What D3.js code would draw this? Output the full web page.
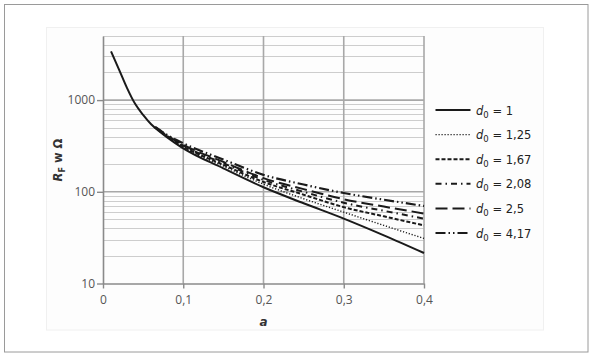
<!DOCTYPE html>
<html><head><meta charset="utf-8">
<script src="https://cdn.jsdelivr.net/npm/d3@7"></script>
<style>body{margin:0;background:#fff}svg{display:block}</style>
</head><body>
<svg id="c" width="593" height="357"></svg>
<script>
const xTicks = [0, 0.1, 0.2, 0.3, 0.4];
const xTickLabels = ["0", "0,1", "0,2", "0,3", "0,4"];
const yTicks = [10, 100, 1000];
const yTickLabels = ["10", "100", "1000"];
const seriesNames = ["1", "1,25", "1,67", "2,08", "2,5", "4,17"];
const aD1 = [0.01, 0.02, 0.03, 0.04, 0.05, 0.06, 0.07, 0.08, 0.09, 0.1, 0.15, 0.2, 0.25, 0.3, 0.35, 0.4];
const rD1 = [3400, 2150, 1350, 910, 690, 545, 458, 392, 340, 298, 180, 112, 75, 51, 33.5, 21.5];
const aOther = [0.065, 0.08, 0.1, 0.15, 0.2, 0.25, 0.3, 0.35, 0.4];
const rD125 = [500, 397, 305, 190, 121, 84, 60, 43, 31];
const rD167 = [502, 402, 312, 197, 128, 93, 68, 54, 43];
const rD208 = [504, 406, 318, 205, 135, 100, 76, 62, 51];
const rD25  = [506, 410, 325, 212, 141, 107, 83, 69, 58];
const rD417 = [510, 417, 338, 225, 153, 120, 97, 82, 70];

const seriesX = [aD1, aOther, aOther, aOther, aOther, aOther];
const seriesY = [rD1, rD125, rD167, rD208, rD25, rD417];
const dashes = ["none", "1.2,1.8", "4,2", "6,4,1.5,4", "12,5", "10,3,1.5,3,1.5,3"];
const widths = [2, 1.4, 2, 2, 2, 2.2];

const svg = d3.select("#c");
svg.append("rect").attr("x",4.5).attr("y",4.5).attr("width",583.5).attr("height",347.5)
  .attr("fill","#fff").attr("stroke","#9a9a9a").attr("stroke-width",1);
svg.append("rect").attr("x",46.5).attr("y",27.5).attr("width",497).attr("height",302.5)
  .attr("fill","#fdfdfd").attr("stroke","#f0f0f0").attr("stroke-width",1);

const x = d3.scaleLinear().domain([0, 0.4]).range([103, 424]);
const y = d3.scaleLog().domain([10, 5000]).range([283.5, 36]);

const g = svg.append("g");
const minor = [];
[10, 100, 1000].forEach(d => { for (let k = 2; k <= 9; k++) { const v = d*k; if (v <= 5000) minor.push(v); } });
g.selectAll(".mn").data(minor).enter().append("line")
  .attr("x1", x(0)).attr("x2", x(0.4))
  .attr("y1", d => Math.round(y(d))+0.5).attr("y2", d => Math.round(y(d))+0.5)
  .attr("stroke", "#cdcdcd").attr("stroke-width", 1);
g.selectAll(".mj").data([100, 1000]).enter().append("line")
  .attr("x1", x(0)).attr("x2", x(0.4))
  .attr("y1", d => y(d)).attr("y2", d => y(d))
  .attr("stroke", "#a8a8a8").attr("stroke-width", 1.6);
g.selectAll(".vg").data(xTicks.slice(1)).enter().append("line")
  .attr("x1", d => x(d)).attr("x2", d => x(d))
  .attr("y1", y(5000)).attr("y2", y(10))
  .attr("stroke", "#a8a8a8").attr("stroke-width", 1.6);

const xAxis = d3.axisBottom(x).tickValues(xTicks).tickFormat((d,i) => xTickLabels[i]).tickSize(5).tickSizeOuter(0);
const gx = svg.append("g").attr("transform", `translate(0,${y(10)})`).call(xAxis);
gx.select(".domain").attr("stroke", "#8a8a8a").attr("stroke-width", 1.6);
gx.selectAll(".tick line").attr("stroke", "#8a8a8a").attr("stroke-width", 1.4);
gx.selectAll("text").attr("font-family", "'Open Sans', sans-serif").attr("font-size", 12).attr("fill", "#555").attr("dy", "1.05em");

const yAxis = d3.axisLeft(y).tickValues(yTicks).tickFormat((d,i) => yTickLabels[i]).tickSize(6).tickSizeOuter(0);
const gy = svg.append("g").attr("transform", `translate(${x(0)},0)`).call(yAxis);
gy.select(".domain").attr("stroke", "#8a8a8a").attr("stroke-width", 1.6);
gy.selectAll(".tick line").attr("stroke", "#8a8a8a").attr("stroke-width", 1.4);
gy.selectAll("text").attr("font-family", "'Open Sans', sans-serif").attr("font-size", 12).attr("fill", "#555").attr("x", -8);

const line = d3.line().x(d => x(d[0])).y(d => y(d[1])).curve(d3.curveMonotoneX);
seriesY.forEach((ys, i) => {
  const pts = ys.map((v, j) => [seriesX[i][j], v]);
  svg.append("path").attr("d", line(pts)).attr("fill", "none")
    .attr("stroke", "#1a1a1a").attr("stroke-width", widths[i])
    .attr("stroke-dasharray", dashes[i]);
});

const lg = svg.append("g");
seriesNames.forEach((n, i) => {
  const yy = 110 + i * 24.6;
  lg.append("line").attr("x1", 435.5).attr("x2", 470.5).attr("y1", yy).attr("y2", yy)
    .attr("stroke", "#1a1a1a").attr("stroke-width", widths[i]).attr("stroke-dasharray", dashes[i]);
  const t = lg.append("text").attr("x", 476).attr("y", yy + 4.5)
    .attr("font-family", "'DejaVu Sans', Verdana, sans-serif").attr("font-size", 11.5).attr("fill", "#222");
  t.append("tspan").attr("font-style", "italic").text("d");
  t.append("tspan").attr("font-size", 8.5).attr("dy", 3).text("0");
  t.append("tspan").attr("dy", -3).text(" = " + n);
});

const yt = svg.append("text").attr("transform", "translate(62,160) rotate(-90)")
  .attr("text-anchor", "middle").attr("font-family", "'DejaVu Sans', Verdana, sans-serif")
  .attr("font-size", 11.5).attr("font-weight", "bold").attr("fill", "#333");
yt.append("tspan").attr("font-style", "italic").text("R");
yt.append("tspan").attr("font-size", 8).attr("dy", 3).text("F");
yt.append("tspan").attr("dy", -3).text(" w Ω");

svg.append("text").attr("x", (x(0)+x(0.4))/2).attr("y", 326).attr("text-anchor", "middle")
  .attr("font-family", "'DejaVu Sans', Verdana, sans-serif").attr("font-size", 12)
  .attr("font-weight", "bold").attr("font-style", "italic").attr("fill", "#333").text("a");
</script>
</body></html>
